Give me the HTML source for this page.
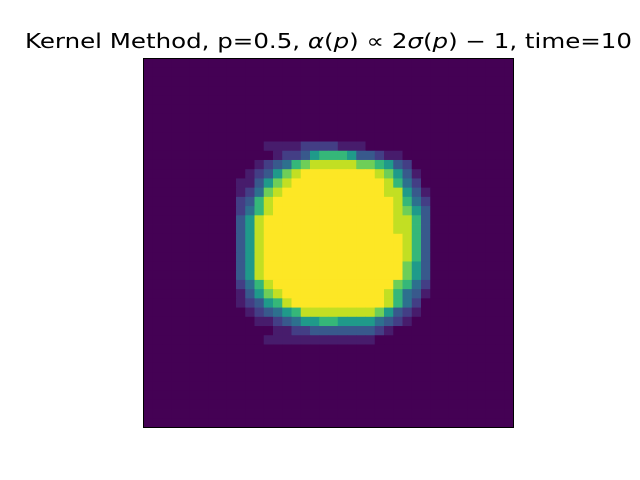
<!DOCTYPE html>
<html><head><meta charset="utf-8"><style>
html,body{margin:0;padding:0;background:#fff;}
svg{display:block;}
</style></head><body>
<svg id="chart" width="640" height="480" xmlns="http://www.w3.org/2000/svg">
<rect width="640" height="480" fill="#fff"/>
<text x="25" y="48" font-family="DejaVu Sans, Liberation Sans, sans-serif" font-size="20" fill="#000" textLength="607" lengthAdjust="spacingAndGlyphs">Kernel Method, p=0.5, <tspan font-style="italic">α</tspan>(<tspan font-style="italic">p</tspan>) ∝ 2<tspan font-style="italic">σ</tspan>(<tspan font-style="italic">p</tspan>) − 1, time=10</text>
<g id="cells"></g>
<rect x="143.5" y="58.5" width="370" height="369" fill="none" stroke="#000" stroke-width="1"/>
</svg>
<script>
// heat levels 0..9 per grid row (40x40 grid); each string covers cols 9..31
const gridSize = 40;
const rowStart = [9,10,11,12,13,14,15,16,17,18,19,20,21,22,23,24,25,26,27,28,29,30];
const colOffset = 9;
const rowLevels = [
"00001111222211100000000",
"00000122356665332110000",
"00012346788888776532000",
"00123578999999998753100",
"01135789999999999864200",
"01247899999999999885310",
"02368999999999999986420",
"02468999999999999987530",
"03589999999999999988630",
"03589999999999999988630",
"03589999999999999998630",
"03589999999999999998630",
"03589999999999999998630",
"03589999999999999997530",
"03589999999999999997530",
"02468999999999999976420",
"01357899999999999864310",
"01235689999999999864200",
"00123456888888887532100",
"00011234556655554321000",
"00000112233333332100000",
"00001111111111110000000"
];
const viridis = ["#440154","#471c6c","#433e85","#38598c","#2d708e","#1f9a8a","#35b779","#6ece58","#c2df23","#fde725"];
const x0 = 143.5, y0 = 58.5, W = 370, H = 369;
function xScale(c){ return x0 + c * W / gridSize; }
function yScale(r){ return y0 + r * H / gridSize; }
const g = document.getElementById('cells');
const NS = "http://www.w3.org/2000/svg";
for (let r = 0; r < gridSize; r++) {
  const idx = rowStart.indexOf(r);
  for (let c = 0; c < gridSize; c++) {
    let lv = 0;
    if (idx >= 0) {
      const s = rowLevels[idx];
      const k = c - colOffset;
      if (k >= 0 && k < s.length) lv = parseInt(s[k], 10);
    }
    const rect = document.createElementNS(NS, 'rect');
    rect.setAttribute('x', xScale(c));
    rect.setAttribute('y', yScale(r));
    rect.setAttribute('width', W / gridSize + 0.4);
    rect.setAttribute('height', H / gridSize + 0.4);
    rect.setAttribute('fill', viridis[lv]);
    
    
    g.appendChild(rect);
  }
}
</script>
</body></html>
